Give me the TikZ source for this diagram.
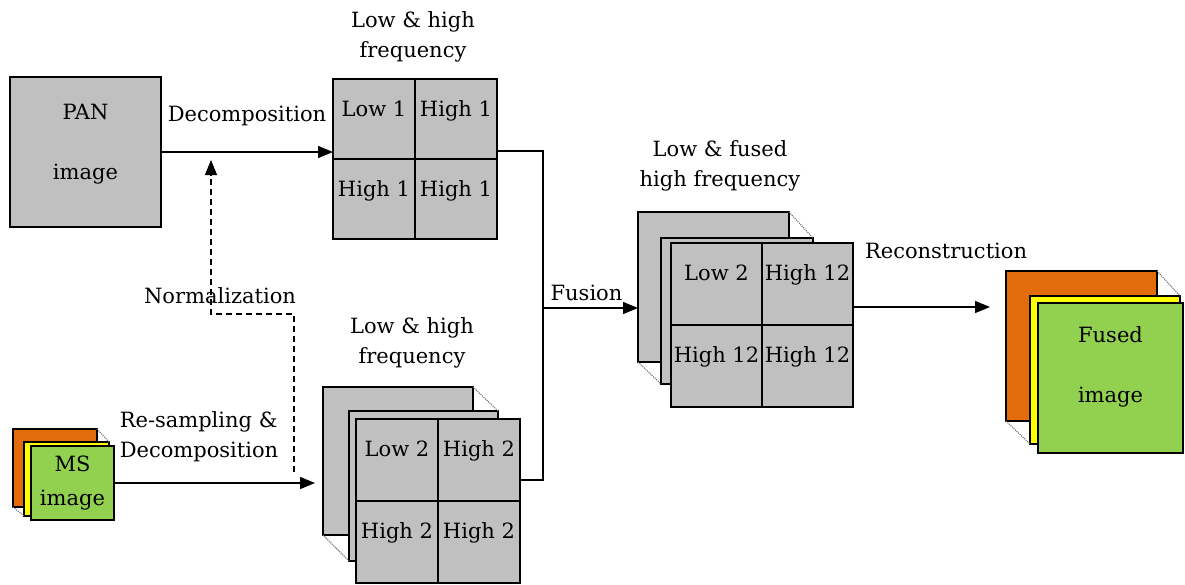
\documentclass[tikz,border=0pt]{standalone}
\usepackage{fontspec}
\setmainfont{DejaVu Serif}
\usetikzlibrary{arrows.meta,positioning}
\definecolor{pageGray}{RGB}{192,192,192}
\definecolor{bandOrange}{RGB}{227,108,10}
\definecolor{bandYellow}{RGB}{255,255,0}
\definecolor{bandGreen}{RGB}{146,208,80}

\begin{document}
\begin{tikzpicture}[
    x=1pt, y=-1pt,
    font=\fontsize{21}{30}\selectfont,
    page/.style={draw, line width=1.4pt, fill=pageGray, outer sep=0pt, inner sep=0pt},
    cell/.style={page, minimum width=82pt, minimum height=80pt},
    cellTxt/.style={anchor=base, yshift=-37pt, inner sep=0pt},
    boxTxt/.style={anchor=center, align=center, inner sep=0pt},
    fold/.style={black!55, densely dotted, line width=1.1pt},
    link/.style={line width=1.4pt},
    flow/.style={link, -{Triangle[length=15pt,width=12pt]}},
    tag/.style={align=center, inner sep=0pt}
  ]
  \useasboundingbox (0,0) rectangle (1185,584);

  % PAN image and its decomposition
  \node[page, minimum width=151pt, minimum height=150pt, anchor=north west,
        label={[boxTxt, yshift=8pt]center:{PAN\\[30pt]image}}] (pan) at (10,77) {};
  \node[cell, anchor=north west, label={[cellTxt]north:Low 1}] (loA) at (333,79) {};
  \node[cell, right=0pt of loA, label={[cellTxt]north:High 1}] (hiA) {};
  \node[cell, below=0pt of loA, label={[cellTxt]north:High 1}] (hiAl) {};
  \node[cell, right=0pt of hiAl, label={[cellTxt]north:High 1}] (hiAr) {};
  \node[tag] (freqA) at (413,37) {Low \& high\\frequency};

  \draw[flow] (pan) -- (pan -| loA.west)
    node[midway, anchor=base, yshift=31pt] {Decomposition};

  % MS image
  \node[page, fill=bandOrange, minimum width=84pt, minimum height=78pt, anchor=north west] (msR) at (13,429) {};
  \node[page, fill=bandYellow, minimum width=85pt, minimum height=74pt, anchor=north west] (msY) at (24,442) {};
  \node[page, fill=bandGreen, minimum width=83pt, minimum height=74pt, anchor=north west,
        label={[boxTxt]center:{MS\\[4pt]image}}] (ms) at (31,446) {};
  \draw[fold] (msR.north east) -- (msY.north east);
  \draw[fold] (msR.south west) -- (msY.south west);

  % MS decomposition stack
  \node[page, minimum width=150pt, minimum height=148pt, anchor=north west] (backB) at (323,387) {};
  \node[page, minimum width=149pt, minimum height=150pt, anchor=north west] (midB) at (349,411) {};
  \draw[fold] (backB.north east) -- (midB.north east);
  \draw[fold] (backB.south west) -- (midB.south west);
  \node[cell, minimum height=82pt, anchor=north west,
        label={[cellTxt]north:Low 2}] (loB) at (356,419) {};
  \node[cell, minimum height=82pt, right=0pt of loB,
        label={[cellTxt]north:High 2}] (hiB) {};
  \node[cell, minimum height=82pt, below=0pt of loB,
        label={[cellTxt]north:High 2}] (hiBl) {};
  \node[cell, minimum height=82pt, right=0pt of hiBl,
        label={[cellTxt]north:High 2}] (hiBr) {};
  \node[tag] (freqB) at (412,343) {Low \& high\\frequency};

  \draw[flow, shorten >=8pt] (ms) -- (ms -| backB.west);
  \node[tag, align=left] (resLbl) at (199,437) {Re-sampling \&\\Decomposition};

  % normalization
  \coordinate (normStart) at (294,472);
  \coordinate (normTurn) at (294,314);
  \coordinate (normEnd) at (211,160);
  \draw[flow, line width=1.1pt, dash pattern=on 6pt off 4pt] (normStart) -- (normTurn) -| (normEnd);
  \node[tag] (normLbl) at (220,296) {Normalization};

  % fused stack
  \node[page, minimum width=151pt, minimum height=150pt, anchor=north west] (backF) at (638,212) {};
  \node[page, minimum width=152pt, minimum height=146pt, anchor=north west] (midF) at (661,238) {};
  \draw[fold] (backF.north east) -- (midF.north east);
  \draw[fold] (backF.south west) -- (midF.south west);
  \node[cell, minimum width=91pt, minimum height=82pt, anchor=north west,
        label={[cellTxt]north:Low 2}] (loF) at (671,243) {};
  \node[cell, minimum width=91pt, minimum height=82pt, right=0pt of loF,
        label={[cellTxt]north:High 12}] (hiF) {};
  \node[cell, minimum width=91pt, minimum height=82pt, below=0pt of loF,
        label={[cellTxt]north:High 12}] (hiFl) {};
  \node[cell, minimum width=91pt, minimum height=82pt, right=0pt of hiFl,
        label={[cellTxt]north:High 12}] (hiFr) {};
  \node[tag] (freqF) at (720,166) {Low \& fused\\high frequency};

  \coordinate (join) at (543,308);
  \draw[link] ([yshift=8pt]hiA.south east) -| (join);
  \draw[link] ([yshift=-20pt]hiB.east) -| (join);
  \draw[flow] (join) -- (join -| backF.west)
    node[midway, anchor=base, yshift=8pt, xshift=-4pt] {Fusion};

  % fused image
  \node[page, fill=bandOrange, minimum width=151pt, minimum height=150pt, anchor=north west] (fuR) at (1006,271) {};
  \node[page, fill=bandYellow, minimum width=150pt, minimum height=148pt, anchor=north west] (fuY) at (1030,296) {};
  \node[page, fill=bandGreen, minimum width=145pt, minimum height=150pt, anchor=north west,
        label={[boxTxt, yshift=11pt]center:{Fused\\[30pt]image}}] (fused) at (1038,303) {};
  \draw[fold] (fuR.north east) -- (fuY.north east);
  \draw[fold] (fuR.south west) -- (fuY.south west);

  \coordinate (rcEnd) at (990,307);
  \draw[flow] (hiF.east |- rcEnd) -- (rcEnd)
    node[pos=0, anchor=base west, xshift=8pt, yshift=49pt] {Reconstruction};
\end{tikzpicture}
\end{document}
